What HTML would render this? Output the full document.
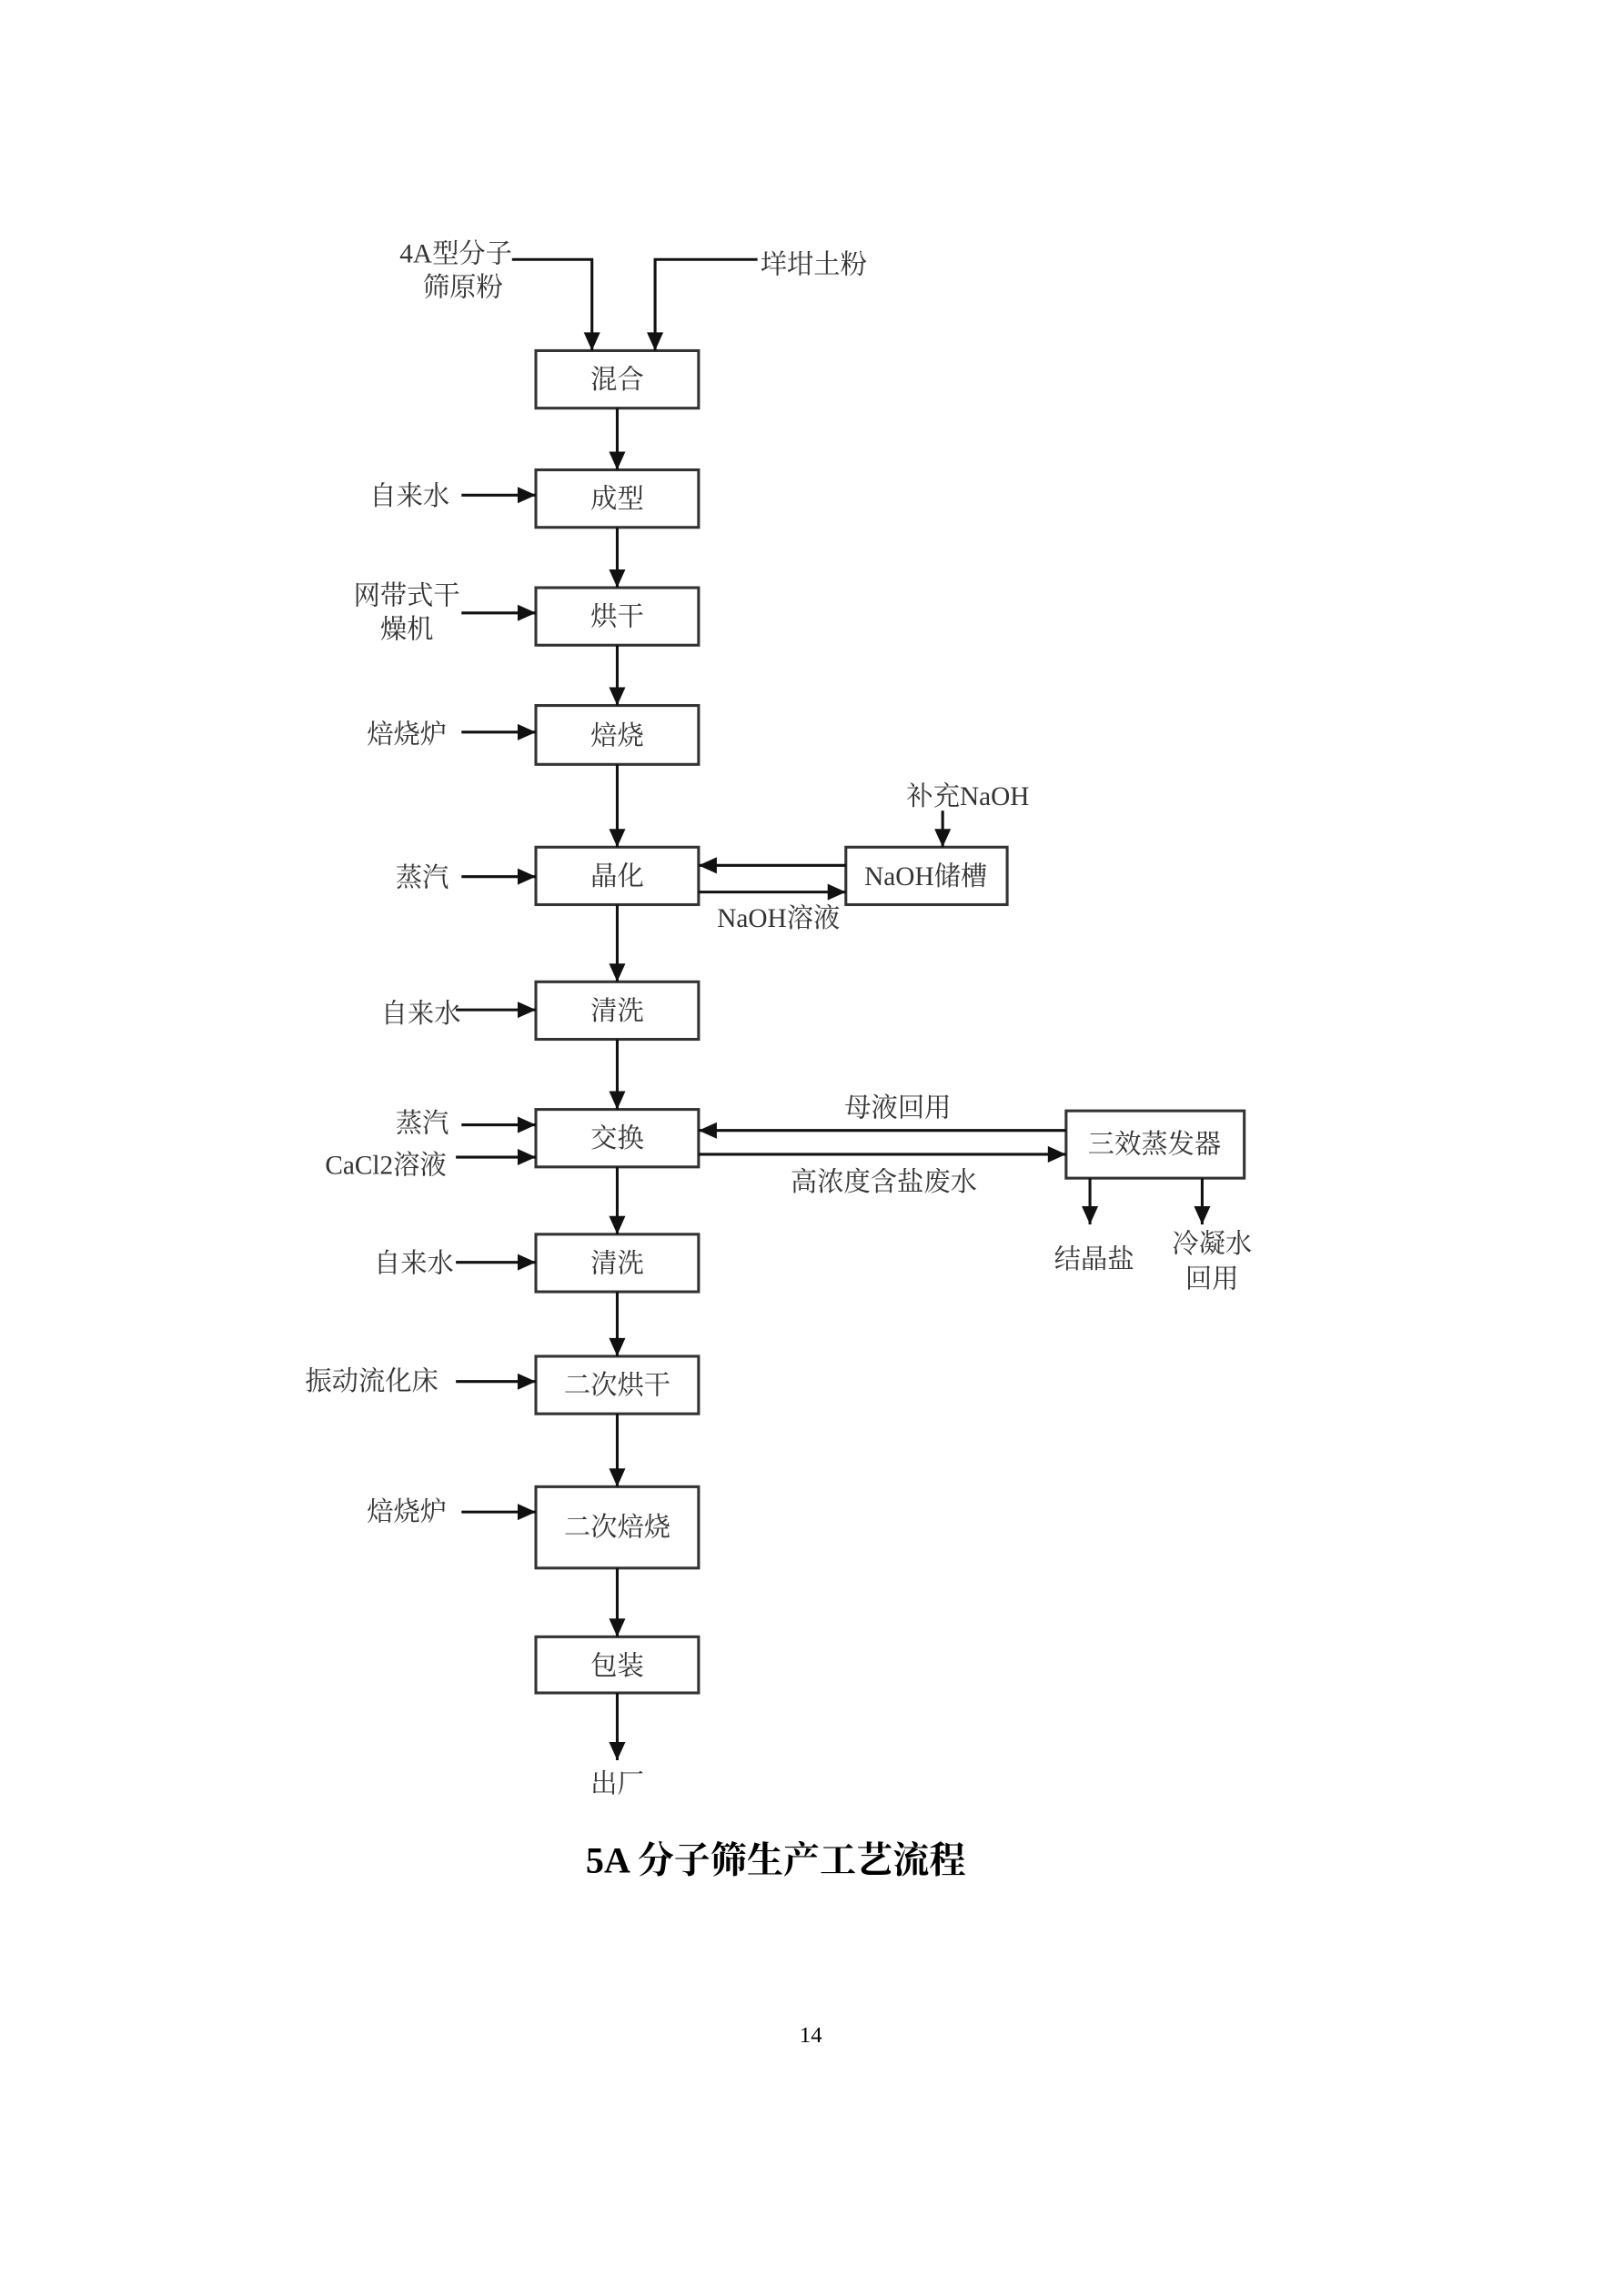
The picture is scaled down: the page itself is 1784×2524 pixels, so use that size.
<!DOCTYPE html>
<html><head><meta charset="utf-8"><style>
html,body{margin:0;padding:0;background:#fff;}
svg{display:block;}
text{font-family:"Liberation Serif","Noto Serif CJK SC","Noto Sans CJK SC",serif;fill:#333;font-size:19px;}
</style></head><body>
<svg width="1784" height="2524" viewBox="0 0 1157 1637" preserveAspectRatio="none" xmlns="http://www.w3.org/2000/svg">
<defs>
<marker id="b" viewBox="0 0 10 10" refX="10" refY="5" markerWidth="15" markerHeight="13" markerUnits="userSpaceOnUse" orient="auto">
<path d="M0,0.5 L10,5 L0,9.5 z" fill="#111"/></marker>
</defs>
<g fill="none" stroke="#333" stroke-width="2">
<rect x="382" y="250" width="116" height="41"/>
<rect x="382" y="335" width="116" height="41"/>
<rect x="382" y="419" width="116" height="41"/>
<rect x="382" y="503" width="116" height="42"/>
<rect x="382" y="604" width="116" height="41"/>
<rect x="382" y="700" width="116" height="41"/>
<rect x="382" y="791" width="116" height="41"/>
<rect x="382" y="880" width="116" height="41"/>
<rect x="382" y="967" width="116" height="41"/>
<rect x="382" y="1060" width="116" height="58"/>
<rect x="382" y="1167" width="116" height="40"/>
<rect x="603" y="604" width="115" height="41"/>
<rect x="760" y="792" width="127" height="48"/>
</g>
<g fill="none" stroke="#111" stroke-width="2" marker-end="url(#b)">
<path d="M365,185 H422 V250"/>
<path d="M540,185 H467 V250"/>
<path d="M440,291 V335"/>
<path d="M440,376 V419"/>
<path d="M440,460 V503"/>
<path d="M440,545 V604"/>
<path d="M440,645 V700"/>
<path d="M440,741 V791"/>
<path d="M440,832 V880"/>
<path d="M440,921 V967"/>
<path d="M440,1008 V1060"/>
<path d="M440,1118 V1167"/>
<path d="M440,1207 V1255"/>
<path d="M329,353 H382"/>
<path d="M329,437 H382"/>
<path d="M329,522 H382"/>
<path d="M329,625 H382"/>
<path d="M325,720 H382"/>
<path d="M329,802 H382"/>
<path d="M325,825 H382"/>
<path d="M325,900 H382"/>
<path d="M325,985 H382"/>
<path d="M329,1078 H382"/>
<path d="M603,617 H498"/>
<path d="M498,636 H603"/>
<path d="M672,578 V604"/>
<path d="M760,806 H498"/>
<path d="M498,823 H760"/>
<path d="M777,840 V873"/>
<path d="M857,840 V873"/>
</g>
<g text-anchor="middle">
<text x="440" y="277">混合</text>
<text x="440" y="362">成型</text>
<text x="440" y="446">烘干</text>
<text x="440" y="531">焙烧</text>
<text x="440" y="631">晶化</text>
<text x="440" y="727">清洗</text>
<text x="440" y="818">交换</text>
<text x="440" y="907">清洗</text>
<text x="440" y="994">二次烘干</text>
<text x="440" y="1095">二次焙烧</text>
<text x="440" y="1194">包装</text>
<text x="440" y="1278">出厂</text>
<text x="660" y="631">NaOH储槽</text>
<text x="823" y="822">三效蒸发器</text>
<text x="325" y="187">4A型分子</text>
<text x="330" y="211">筛原粉</text>
<text x="580" y="195">垟坩土粉</text>
<text x="292" y="360">自来水</text>
<text x="290" y="431">网带式干</text>
<text x="290" y="455">燥机</text>
<text x="290" y="530">焙烧炉</text>
<text x="301" y="632">蒸汽</text>
<text x="300" y="729">自来水</text>
<text x="301" y="807">蒸汽</text>
<text x="275" y="837">CaCl2溶液</text>
<text x="295" y="907">自来水</text>
<text x="265" y="991">振动流化床</text>
<text x="290" y="1084">焙烧炉</text>
<text x="690" y="574">补充NaOH</text>
<text x="555" y="661">NaOH溶液</text>
<text x="640" y="796">母液回用</text>
<text x="630" y="849">高浓度含盐废水</text>
<text x="780" y="904">结晶盐</text>
<text x="864" y="893">冷凝水</text>
<text x="864" y="918">回用</text>
<text x="553" y="1335" style="font-size:26px;fill:#000;font-weight:bold">5A 分子筛生产工艺流程</text>
<text x="578" y="1456" style="font-size:16px;fill:#000">14</text>
</g>
</svg>
</body></html>
